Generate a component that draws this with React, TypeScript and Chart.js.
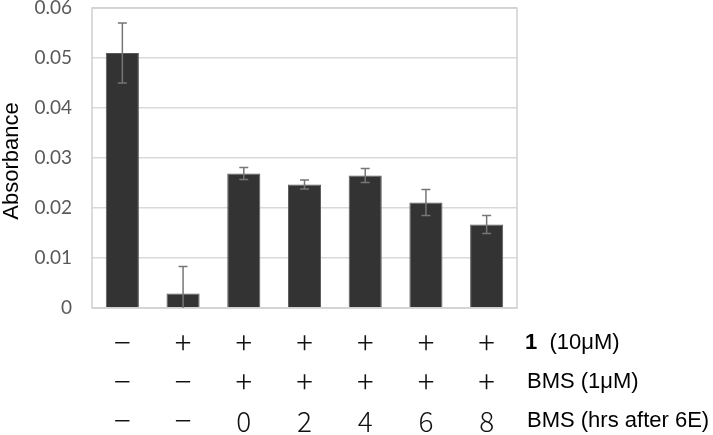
import React, { useEffect, useRef } from 'react';
import { Chart, registerables } from 'chart.js';

Chart.register(...registerables);

const categories = ['A', 'B', 'C', 'D', 'E', 'F', 'G'];
const absorbance = [0.051, 0.0029, 0.0269, 0.0247, 0.0265, 0.0211, 0.0167];
const errors = [0.006, 0.0054, 0.0012, 0.0009, 0.0014, 0.0026, 0.0018];
const yTicks = [0, 0.01, 0.02, 0.03, 0.04, 0.05, 0.06];
const compound1Row = ['−', '+', '+', '+', '+', '+', '+'];
const bmsRow = ['−', '−', '+', '+', '+', '+', '+'];
const bmsHoursRow = ['−', '−', '0', '2', '4', '6', '8'];
const yTitle = 'Absorbance';

const W = 713;
const H = 435;

export default function App() {
  const ref = useRef<HTMLCanvasElement | null>(null);

  useEffect(() => {
    if (!ref.current) return;
    const extras = {
      id: 'extras',
      afterDraw(chart: any) {
        const ctx = chart.ctx as CanvasRenderingContext2D;
        const area = chart.chartArea;
        const xs = chart.scales.x;
        const ys = chart.scales.y;
        ctx.save();
        // plot border
        ctx.strokeStyle = '#d0d0d0';
        ctx.lineWidth = 1.5;
        ctx.strokeRect(area.left, area.top, area.right - area.left, area.bottom - area.top);
        // error bars
        ctx.beginPath();
        ctx.rect(area.left, area.top - 20, area.right - area.left, area.bottom - area.top + 20);
        ctx.clip();
        ctx.strokeStyle = '#767676';
        ctx.lineWidth = 1.5;
        absorbance.forEach((v, i) => {
          const x = xs.getPixelForValue(i);
          const yt = ys.getPixelForValue(v + errors[i]);
          const yb = ys.getPixelForValue(v - errors[i]);
          ctx.beginPath();
          ctx.moveTo(x, yt);
          ctx.lineTo(x, yb);
          ctx.moveTo(x - 4.5, yt);
          ctx.lineTo(x + 4.5, yt);
          if (v - errors[i] >= 0) {
            ctx.moveTo(x - 4.5, yb);
            ctx.lineTo(x + 4.5, yb);
          }
          ctx.stroke();
        });
        ctx.restore();

        ctx.save();
        // y title
        ctx.fillStyle = '#000';
        ctx.font = '22px "Liberation Sans", Arial, sans-serif';
        ctx.textAlign = 'center';
        ctx.textBaseline = 'middle';
        ctx.translate(12, (area.top + area.bottom) / 2 + 3);
        ctx.rotate(-Math.PI / 2);
        ctx.fillText(yTitle, 0, 0);
        ctx.restore();

        ctx.save();
        const rows = [compound1Row, bmsRow, bmsHoursRow];
        const rowY = [343, 382, 421];
        ctx.fillStyle = '#111';
        ctx.textAlign = 'center';
        ctx.textBaseline = 'middle';
        rows.forEach((row, r) => {
          row.forEach((s, i) => {
            const x = xs.getPixelForValue(i);
            if (s === '+' || s === '−') {
              ctx.font = '300 31px "Noto Sans CJK JP", sans-serif';
              ctx.fillText(s, x, rowY[r] - 1);
            } else {
              ctx.font = '300 28px "Noto Sans CJK JP", sans-serif';
              ctx.fillText(s, x, rowY[r]);
            }
          });
        });
        ctx.textAlign = 'left';
        ctx.fillStyle = '#000';
        const lx = 525;
        ctx.font = 'bold 22px "Liberation Sans", Arial, sans-serif';
        ctx.fillText('1', lx, rowY[0]);
        const w1 = ctx.measureText('1').width;
        ctx.font = '22px "Liberation Sans", Arial, sans-serif';
        ctx.fillText('  (10μM)', lx + w1, rowY[0]);
        ctx.fillText('BMS (1μM)', lx + 2, rowY[1]);
        ctx.fillText('BMS (hrs after 6E)', lx + 2, rowY[2]);
        ctx.restore();
      },
    };

    const chart = new Chart(ref.current, {
      type: 'bar',
      data: {
        labels: categories,
        datasets: [
          {
            data: absorbance,
            backgroundColor: '#333333',
            borderColor: '#5a5a5a',
            borderWidth: 1,
            categoryPercentage: 1,
            barPercentage: 0.545,
          },
        ],
      },
      options: {
        responsive: false,
        animation: false,
        devicePixelRatio: 1,
        layout: { padding: { left: 0, top: 8, right: 196, bottom: 127 } },
        plugins: { legend: { display: false }, tooltip: { enabled: false } },
        scales: {
          x: { display: false },
          y: {
            min: 0,
            max: 0.06,
            afterFit: (s: any) => {
              s.width = 92;
              s.paddingTop = 0;
              s.paddingBottom = 0;
            },
            afterBuildTicks: (s: any) => {
              s.ticks = yTicks.map((v) => ({ value: v }));
            },
            border: { display: false },
            grid: { color: '#d9d9d9', lineWidth: 1.5, drawTicks: false },
            ticks: {
              padding: 20,
              color: '#595959',
              font: { family: 'Lato, "Open Sans", sans-serif', size: 19 },
              callback: (v: any) => (Number(v) === 0 ? '0' : Number(v).toFixed(2)),
            },
          },
        },
      },
      plugins: [extras],
    });
    return () => chart.destroy();
  }, []);

  return (
    <div style={{ position: 'absolute', left: 0, top: 0, width: W, height: H, background: '#fff' }}>
      <canvas ref={ref} width={W} height={H} style={{ width: W, height: H }} />
    </div>
  );
}
